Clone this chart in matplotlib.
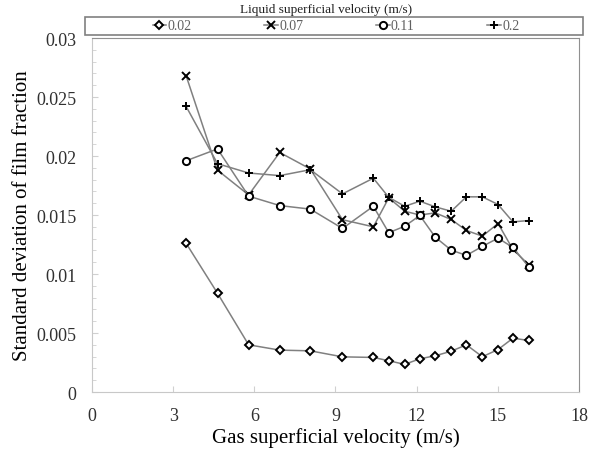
import matplotlib.pyplot as plt
from matplotlib.patches import Rectangle
from matplotlib.ticker import MultipleLocator

plt.rcParams["font.family"] = ["Liberation Serif", "DejaVu Serif"]

# gas superficial velocity (m/s), shared by all series
gas_vel = [3.48, 4.64, 5.79, 6.94, 8.07, 9.26, 10.4, 10.97, 11.56,
           12.12, 12.69, 13.28, 13.84, 14.43, 15.01, 15.56, 16.14]

sd_002 = [0.0126, 0.00837, 0.0040, 0.00355, 0.00349, 0.00298, 0.00293, 0.00265, 0.00234,
          0.00282, 0.00307, 0.00346, 0.0040, 0.00299, 0.00360, 0.00456, 0.00437]
sd_007 = [0.0268, 0.0188, 0.0167, 0.0203, 0.0189, 0.0146, 0.0140, 0.01645, 0.01532,
          0.0150, 0.01518, 0.01462, 0.01369, 0.01321, 0.01428, 0.01208, 0.0108]
sd_011 = [0.0196, 0.0206, 0.0166, 0.0158, 0.0155, 0.01386, 0.01574, 0.0135, 0.01405,
          0.01496, 0.01312, 0.01202, 0.01158, 0.01234, 0.01304, 0.01225, 0.01062]
sd_020 = [0.0242, 0.01935, 0.01856, 0.01834, 0.01884, 0.01679, 0.01812, 0.0165, 0.01574,
          0.01617, 0.01569, 0.01532, 0.01654, 0.01654, 0.01589, 0.01442, 0.01453]

series = [sd_002, sd_007, sd_011, sd_020]
labels = ["0.02", "0.07", "0.11", "0.2"]
markers = ["D", "x", "o", "+"]
msizes = [3.6, 6, 5.2, 5.8]

fig = plt.figure(figsize=(5.95, 4.52), dpi=100)
ax = fig.add_axes([0.1546, 0.1305, 0.973 - 0.1546, 0.9137 - 0.1305])

for ys, lab, m, ms in zip(series, labels, markers, msizes):
    ax.plot(gas_vel, ys, color="#808080", lw=1.1, marker=m, ms=ms,
            mec="black", mfc="white", mew=1.4, label=lab)

ax.set(xlim=[0, 18], ylim=[0, 0.03])
ax.set_xticks(range(0, 19, 3))
ax.set_yticks([0, 0.005, 0.01, 0.015, 0.02, 0.025, 0.03])
ax.set_yticklabels(["0", "0.005", "0.01", "0.015", "0.02", "0.025", "0.03"])
ax.yaxis.set_minor_locator(MultipleLocator(0.001))
ax.tick_params(which="both", direction="in", color="#d0d0d0", labelcolor="#303030",
               labelsize=13)
ax.tick_params(which="major", length=4, pad=11)
ax.tick_params(which="minor", length=3)
ax.tick_params(axis="x", which="minor", length=0)
for side in ["left", "bottom"]:
    ax.spines[side].set_color("#c8c8c8")
for side in ["right", "top"]:
    ax.spines[side].set_color("#909090")

ax.set_xlabel("Gas superficial velocity (m/s)", fontsize=15, labelpad=2)
ax.set_ylabel("Standard deviation of film fraction", fontsize=15, labelpad=3)

# legend box above the plot, title outside the box
fig.patches.append(Rectangle((85 / 595, 1 - 36 / 452), 498 / 595, 18 / 452,
                             transform=fig.transFigure, fill=False,
                             edgecolor="#808080", lw=1.2))
fig.text(326 / 595, 1 - 10 / 452, "Liquid superficial velocity (m/s)",
         ha="center", va="center", fontsize=9.5, color="#202020")
fig.legend(loc="center", bbox_to_anchor=(336 / 595, 1 - 27 / 452), ncol=4,
           frameon=False, fontsize=10, labelcolor="#606060", handlelength=1.0,
           handletextpad=0.1, columnspacing=5.2, borderpad=0)

fig.savefig("out.png", dpi=100)
